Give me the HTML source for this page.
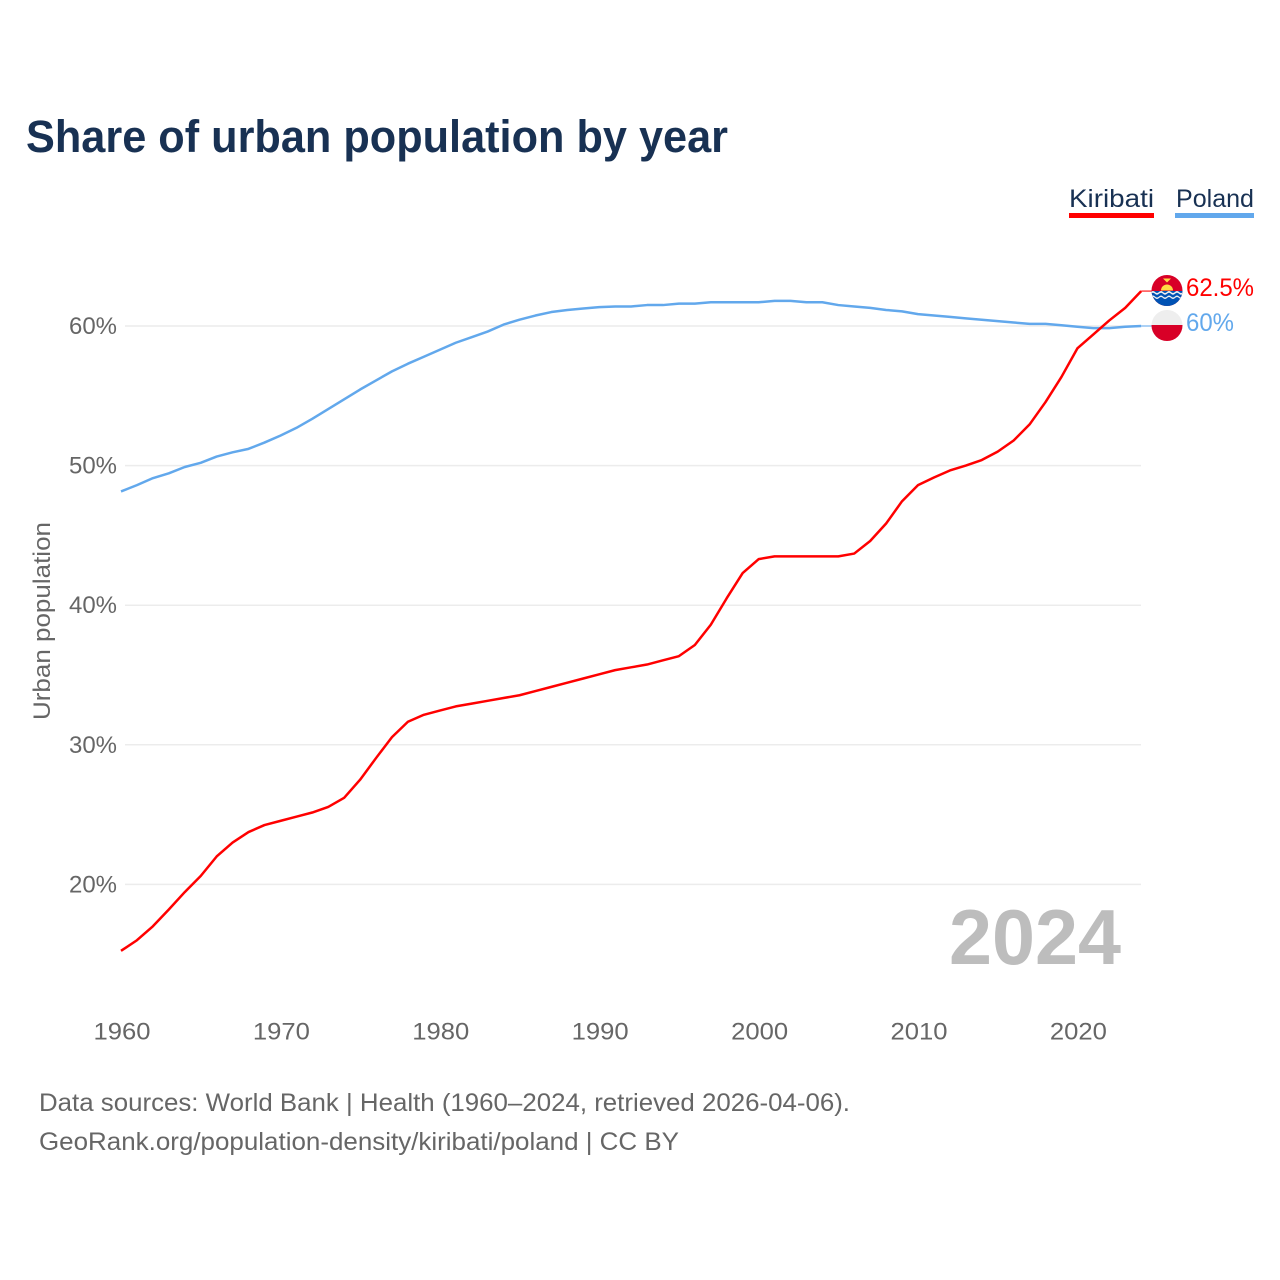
<!DOCTYPE html>
<html lang="en">
<head>
<meta charset="utf-8">
<title>Share of urban population by year</title>
<style>
html,body{margin:0;padding:0;background:#fff;width:1280px;height:1280px;overflow:hidden}
svg{display:block}
text{font-family:"Liberation Sans",sans-serif}
</style>
</head>
<body>
<svg id="chart" xmlns="http://www.w3.org/2000/svg" width="1280" height="1280" viewBox="0 0 1280 1280">
  <text x="26" y="152" font-size="45" font-weight="700" fill="#183153" textLength="702" lengthAdjust="spacingAndGlyphs">Share of urban population by year</text>

  <g>
    <text x="1069" y="207" font-size="25" fill="#183153" textLength="85" lengthAdjust="spacingAndGlyphs">Kiribati</text>
    <rect x="1069" y="213" width="85" height="5" fill="#ff0000"/>
  </g>
  <g>
    <text x="1176" y="207" font-size="25" fill="#183153" textLength="78" lengthAdjust="spacingAndGlyphs">Poland</text>
    <rect x="1175" y="213" width="79" height="5" fill="#62a8ec"/>
  </g>

  <g id="grid"></g>
  <g id="yticks"></g>
  <g id="xticks"></g>

  <text transform="translate(50 621) rotate(-90)" text-anchor="middle" font-size="24" fill="#666" textLength="198" lengthAdjust="spacingAndGlyphs">Urban population</text>

  <text x="949" y="964" font-size="78" font-weight="700" fill="#bdbdbd" textLength="172" lengthAdjust="spacingAndGlyphs">2024</text>

  <g id="series"></g>

  <g>
    <clipPath id="clip-ki"><circle cx="1167" cy="290.500" r="15.500"/></clipPath>
    <g clip-path="url(#clip-ki)">
      <rect x="1151" y="275" width="32" height="32" fill="#d80027"/>
      <path d="M1161 290.500a6 6 0 0 1 12 0z" fill="#ffda44"/>
      <path d="M1163 278.500h8l-4 4z" fill="#ffda44"/>
      <rect x="1151" y="291" width="32" height="16" fill="#0052b4"/>
      <path d="M1151 292q2 -2 4 0t4 0t4 0t4 0t4 0t4 0t4 0t4 0v1.800q-2 2 -4 0t-4 0t-4 0t-4 0t-4 0t-4 0t-4 0t-4 0z" fill="#f0f0f0"/>
      <path d="M1151 296.500q2 -2 4 0t4 0t4 0t4 0t4 0t4 0t4 0t4 0v1.500q-2 2 -4 0t-4 0t-4 0t-4 0t-4 0t-4 0t-4 0t-4 0z" fill="#f0f0f0"/>
    </g>
  </g>
  <g>
    <clipPath id="clip-pl"><circle cx="1167" cy="325.500" r="15.500"/></clipPath>
    <g clip-path="url(#clip-pl)">
      <rect x="1151" y="310" width="32" height="16" fill="#eeeeee"/>
      <rect x="1151" y="325" width="32" height="17" fill="#d80027"/>
    </g>
  </g>

  <text x="1186" y="296" font-size="25" fill="#ff0000" textLength="68" lengthAdjust="spacingAndGlyphs">62.5%</text>
  <text x="1186" y="331" font-size="25" fill="#62a8ec" textLength="48" lengthAdjust="spacingAndGlyphs">60%</text>

  <text x="39" y="1111" font-size="25" fill="#666" textLength="811" lengthAdjust="spacingAndGlyphs">Data sources: World Bank | Health (1960–2024, retrieved 2026-04-06).</text>
  <text x="39" y="1150" font-size="25" fill="#666" textLength="640" lengthAdjust="spacingAndGlyphs">GeoRank.org/population-density/kiribati/poland | CC BY</text>
</svg>
<script>
const startYear = 1960;
const kiribatiValues = [15.24,16.0,17.0,18.2,19.45,20.6,22.0,23.0,23.75,24.25,24.55,24.85,25.15,25.55,26.2,27.5,29.05,30.55,31.65,32.15,32.45,32.75,32.95,33.15,33.35,33.55,33.85,34.15,34.45,34.75,35.05,35.35,35.55,35.75,36.05,36.35,37.15,38.6,40.5,42.3,43.3,43.5,43.5,43.5,43.5,43.5,43.7,44.6,45.85,47.45,48.6,49.15,49.65,50.0,50.4,51.0,51.8,52.95,54.55,56.35,58.4,59.4,60.4,61.3,62.5];
const polandValues = [48.15,48.6,49.1,49.45,49.9,50.2,50.65,50.95,51.2,51.65,52.15,52.7,53.35,54.05,54.75,55.45,56.1,56.75,57.3,57.8,58.3,58.8,59.2,59.6,60.1,60.45,60.75,61.0,61.15,61.25,61.35,61.4,61.4,61.5,61.5,61.6,61.6,61.7,61.7,61.7,61.7,61.8,61.8,61.7,61.7,61.5,61.4,61.3,61.15,61.05,60.85,60.75,60.65,60.55,60.45,60.35,60.25,60.15,60.15,60.05,59.95,59.85,59.85,59.95,60.0];
const yTickValues = [20,30,40,50,60];
const xTickYears = [1960,1970,1980,1990,2000,2010,2020];

const NS = 'http://www.w3.org/2000/svg';
const xScale = function (year) { return 121 + (year - 1960) * 15.94; };
const yScale = function (value) { return 326 + (60 - value) * 13.96; };

function make(tag, attrs, parent, content) {
  const el = document.createElementNS(NS, tag);
  for (const key in attrs) { el.setAttribute(key, attrs[key]); }
  if (content !== undefined) { el.textContent = content; }
  parent.appendChild(el);
  return el;
}

const gridGroup = document.getElementById('grid');
const yTickGroup = document.getElementById('yticks');
const xTickGroup = document.getElementById('xticks');
const seriesGroup = document.getElementById('series');

yTickValues.forEach(function (v) {
  const line = make('line', {x1: 125, x2: 1141, y1: yScale(v), y2: yScale(v), stroke: '#ececec', 'stroke-width': 1.5}, gridGroup);
  
  
  const label = make('text', {x: 69, y: yScale(v) + 8, 'font-size': 24, fill: '#666', textLength: 48, lengthAdjust: 'spacingAndGlyphs'}, yTickGroup, v + '%');
  
  
});

xTickYears.forEach(function (year) {
  const label = make('text', {x: xScale(year) + 1, y: 1039.5, 'text-anchor': 'middle', 'font-size': 24, fill: '#666', textLength: 57, lengthAdjust: 'spacingAndGlyphs'}, xTickGroup, String(year));
  
  
});

function pointsFor(values) {
  return values.map(function (v, i) { return xScale(startYear + i).toFixed(2) + ',' + yScale(v).toFixed(2); }).join(' ');
}

function drawSeries(values, color, name, leaderEnd) {
  const lastX = xScale(startYear + values.length - 1);
  const lastY = yScale(values[values.length - 1]);
  const leader = make('line', {x1: lastX, x2: leaderEnd, y1: lastY, y2: lastY, stroke: color, 'stroke-width': 1.5, opacity: 0.7}, seriesGroup);
  
  
  const line = make('polyline', {points: pointsFor(values), fill: 'none', stroke: color, 'stroke-width': 2.500, 'stroke-linejoin': 'round'}, seriesGroup);
  
  
}

drawSeries(polandValues, '#62a8ec', 'poland', 1152);
drawSeries(kiribatiValues, '#ff0000', 'kiribati', 1152);
</script>
</body>
</html>
